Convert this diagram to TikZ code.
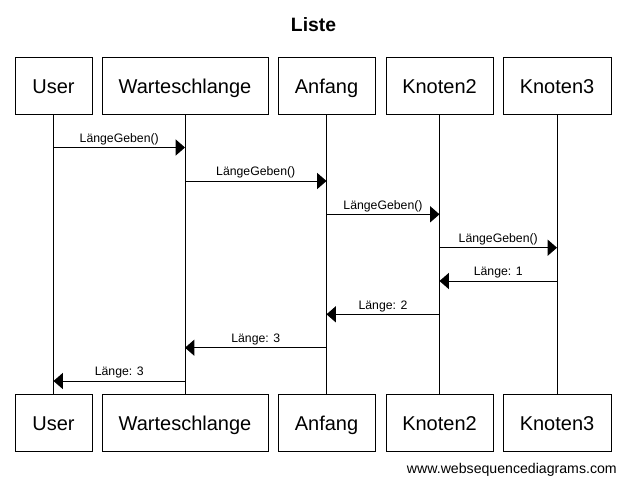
\documentclass[tikz,border=0pt]{standalone}
\usepackage{fontspec}
\setmainfont{Liberation Sans}
\usetikzlibrary{arrows.meta}
\begin{document}
\begin{tikzpicture}[x=0.75pt,y=-0.75pt,
  actor/.style={draw,line width=0.75pt,minimum height=57*0.75pt,minimum width=#1*0.75pt,inner sep=0pt,text height=12.6pt,text depth=0pt,font=\fontsize{15}{18}\selectfont},
  life/.style={line width=0.75pt},
  msg/.style={line width=0.75pt,-{Triangle[length=7pt,width=12pt]}},
  lbl/.style={font=\fontsize{9.2}{11}\selectfont,inner sep=0pt,anchor=base,yshift=3.9pt}]
\useasboundingbox (0,0) rectangle (627,486);
\node[font=\bfseries\fontsize{14.5}{17}\selectfont] (title) at (313.5,25) {Liste};
% top actors
\node[actor=77]  (u1) at (53.5,85.5) {User};
\node[actor=166] (w1) at (185,85.5) {Warteschlange};
\node[actor=97]  (a1) at (326.5,85.5) {Anfang};
\node[actor=107] (k21) at (439.5,85.5) {Knoten2};
\node[actor=108] (k31) at (557,85.5) {Knoten3};
% bottom actors
\node[actor=77]  (u2) at (53.5,422.5) {User};
\node[actor=166] (w2) at (185,422.5) {Warteschlange};
\node[actor=97]  (a2) at (326.5,422.5) {Anfang};
\node[actor=107] (k22) at (439.5,422.5) {Knoten2};
\node[actor=108] (k32) at (557,422.5) {Knoten3};
% lifelines
\draw[life] (u1) -- (u2);
\draw[life] (w1) -- (w2);
\draw[life] (a1) -- (a2);
\draw[life] (k21) -- (k22);
\draw[life] (k31) -- (k32);
% message rows
\coordinate (r1) at (0,147.5);
\coordinate (r2) at (0,181);
\coordinate (r3) at (0,214.3);
\coordinate (r4) at (0,247.7);
\coordinate (r5) at (0,281);
\coordinate (r6) at (0,314.3);
\coordinate (r7) at (0,347.7);
\coordinate (r8) at (0,381);
\draw[msg] (u1 |- r1) -- node[lbl] {LängeGeben()} (w1 |- r1);
\draw[msg] (w1 |- r2) -- node[lbl] {LängeGeben()} (a1 |- r2);
\draw[msg] (a1 |- r3) -- node[lbl] {LängeGeben()} (k21 |- r3);
\draw[msg] (k21 |- r4) -- node[lbl] {LängeGeben()} (k31 |- r4);
\draw[msg] (k31 |- r5) -- node[lbl] {Länge: 1} (k21 |- r5);
\draw[msg] (k21 |- r6) -- node[lbl] {Länge: 2} (a1 |- r6);
\draw[msg] (a1 |- r7) -- node[lbl] {Länge: 3} (w1 |- r7);
\draw[msg] (w1 |- r8) -- node[lbl] {Länge: 3} (u1 |- r8);
\node[anchor=east,inner sep=0pt,font=\fontsize{10.6}{13}\selectfont] (foot) at (617,469.5) {www.websequencediagrams.com};
\end{tikzpicture}
\end{document}
